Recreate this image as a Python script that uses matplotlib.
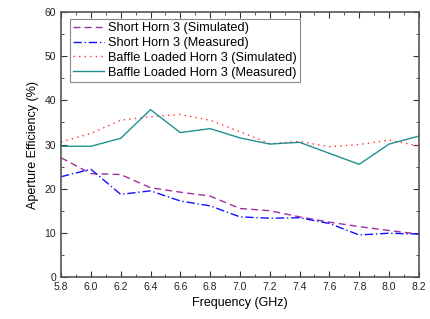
import matplotlib
matplotlib.use('Agg')
import matplotlib.pyplot as plt
from matplotlib.ticker import MultipleLocator

plt.rcParams['font.family'] = ['Liberation Sans', 'DejaVu Sans']

freq = [5.8, 6.0, 6.2, 6.4, 6.6, 6.8, 7.0, 7.2, 7.4, 7.6, 7.8, 8.0, 8.2]

short_sim = [27.0, 23.4, 23.2, 20.2, 19.2, 18.3, 15.5, 15.0, 13.6, 12.4, 11.4, 10.5, 9.7]
short_meas = [22.7, 24.4, 18.7, 19.5, 17.2, 16.1, 13.6, 13.3, 13.4, 12.1, 9.5, 9.9, 9.7]
baffle_sim = [30.6, 32.5, 35.5, 36.3, 36.8, 35.5, 32.9, 30.2, 30.7, 29.5, 30.0, 31.0, 29.7]
baffle_meas = [29.6, 29.6, 31.4, 37.9, 32.7, 33.6, 31.5, 30.1, 30.5, 28.0, 25.5, 30.1, 31.9]

fig = plt.figure(figsize=(4.3, 3.19), dpi=100)
ax = fig.add_axes([0.142, 0.132, 0.832, 0.830])

ax.plot(freq, short_sim, linestyle=(0, (5, 3)), color='#a030a0', lw=1, label='Short Horn 3 (Simulated)')
ax.plot(freq, short_meas, linestyle=(0, (6, 2, 1, 2)), color='#1010ff', lw=1, label='Short Horn 3 (Measured)')
ax.plot(freq, baffle_sim, linestyle=(0, (1, 3)), color='#ff3030', lw=1, label='Baffle Loaded Horn 3 (Simulated)')
ax.plot(freq, baffle_meas, linestyle='-', color='#209090', lw=1, label='Baffle Loaded Horn 3 (Measured)')

ax.set_xlim(5.8, 8.2)
ax.set_ylim(0, 60)
ax.xaxis.set_major_locator(MultipleLocator(0.2))
ax.xaxis.set_minor_locator(MultipleLocator(0.1))
ax.yaxis.set_major_locator(MultipleLocator(10))
ax.yaxis.set_minor_locator(MultipleLocator(5))
ax.tick_params(which='both', direction='in', top=True, right=True, labelsize=7.5,
               color='#333333', labelcolor='#222222')
ax.tick_params(which='major', length=4)
ax.tick_params(which='minor', length=2)
ax.set_xticklabels(['%.1f' % v for v in ax.get_xticks()])
for s in ax.spines.values():
    s.set_color('#555555')
    s.set_linewidth(1.2)

ax.set_xlabel('Frequency (GHz)', fontsize=9)
ax.set_ylabel('Aperture Efficiency (%)', fontsize=9)

leg = ax.legend(loc='upper left', fontsize=9.2, handlelength=2.4, labelspacing=0.22,
                borderpad=0.25, handletextpad=0.3, fancybox=False, framealpha=1,
                bbox_to_anchor=(0.025, 0.974), borderaxespad=0)
leg.get_frame().set_edgecolor('#888888')
leg.get_frame().set_linewidth(0.8)

fig.savefig('out.png', dpi=100)
